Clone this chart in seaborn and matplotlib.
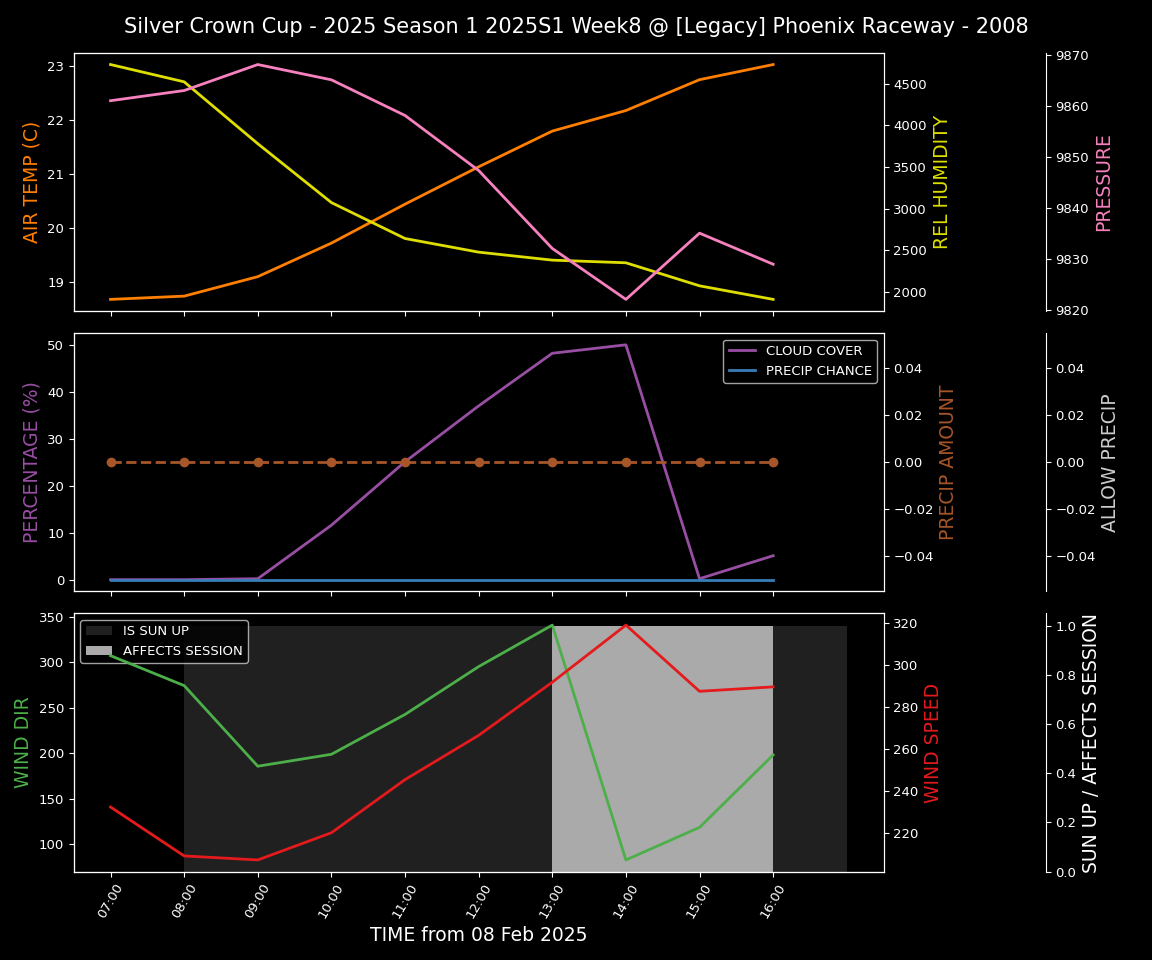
import pandas as pd
import seaborn as sns
import matplotlib.pyplot as plt
import matplotlib.dates as mdates

# Hourly forecast for the session day
hours = ['07:00', '08:00', '09:00', '10:00', '11:00', '12:00', '13:00', '14:00', '15:00', '16:00']
air_temp = [18.68, 18.74, 19.10, 19.72, 20.44, 21.13, 21.79, 22.17, 22.74, 23.02]
rel_humidity = [4732, 4524, 3780, 3072, 2640, 2476, 2380, 2348, 2071, 1908]
pressure = [9861.1, 9863.1, 9868.2, 9865.2, 9858.2, 9847.4, 9832.1, 9822.1, 9835.1, 9829.0]
cloud_cover = [0.0, 0.0, 0.2, 11.6, 25.1, 37.0, 48.2, 50.0, 0.2, 5.1]
precip_chance = [0, 0, 0, 0, 0, 0, 0, 0, 0, 0]
precip_amount = [0.0, 0.0, 0.0, 0.0, 0.0, 0.0, 0.0, 0.0, 0.0, 0.0]
allow_precip = [0, 0, 0, 0, 0, 0, 0, 0, 0, 0]
wind_dir = [307.3, 274.4, 185.8, 198.9, 242.7, 295.3, 340.9, 82.8, 118.6, 198.2]
wind_speed = [232.5, 209.3, 207.4, 220.3, 245.5, 266.5, 291.7, 318.8, 287.4, 289.5]
sun_up = [0, 1, 1, 1, 1, 1, 1, 1, 1, 1]
affects_session = [0, 0, 0, 0, 0, 0, 1, 1, 1, 0]

times = pd.to_datetime(['2025-02-08 ' + h for h in hours])
df = pd.DataFrame({
    'time': times, 'air_temp': air_temp, 'rel_humidity': rel_humidity,
    'pressure': pressure, 'cloud_cover': cloud_cover, 'precip_chance': precip_chance,
    'precip_amount': precip_amount, 'wind_dir': wind_dir, 'wind_speed': wind_speed,
})

plt.style.use('dark_background')
plt.rcParams['xtick.labelsize'] = 9.5
plt.rcParams['ytick.labelsize'] = 9.5
plt.rcParams['legend.fontsize'] = 9.5
plt.rcParams['lines.linewidth'] = 2

fig, (ax1, ax2, ax3) = plt.subplots(3, 1, sharex=True, figsize=(11.52, 9.6), dpi=100)
fig.subplots_adjust(left=0.064, right=0.767, top=0.945, bottom=0.092, hspace=0.085)
lab = 13.5

# --- top: temperature / humidity / pressure
sns.lineplot(data=df, x='time', y='air_temp', ax=ax1, color='#ff7f00')
ax1.set_ylabel('AIR TEMP (C)', color='#ff7f00', fontsize=lab)
ax1b = ax1.twinx()
sns.lineplot(data=df, x='time', y='rel_humidity', ax=ax1b, color='#dede00')
ax1b.set_ylabel('REL HUMIDITY', color='#dede00', fontsize=lab)
ax1c = ax1.twinx()
ax1c.spines['right'].set_position(('axes', 1.2))
sns.lineplot(data=df, x='time', y='pressure', ax=ax1c, color='#f781bf')
ax1c.set_ylabel('PRESSURE', color='#f781bf', fontsize=lab)

# --- middle: cloud / precip
sns.lineplot(data=df, x='time', y='cloud_cover', ax=ax2, color='#984ea3', label='CLOUD COVER')
sns.lineplot(data=df, x='time', y='precip_chance', ax=ax2, color='#377eb8', label='PRECIP CHANCE')
ax2.set_ylabel('PERCENTAGE (%)', color='#984ea3', fontsize=lab)
ax2.legend(loc='upper right')
ax2b = ax2.twinx()
sns.lineplot(data=df, x='time', y='precip_amount', ax=ax2b, color='#a65628',
             marker='o', markersize=7, markeredgewidth=0, linestyle='--')
ax2b.set_ylabel('PRECIP AMOUNT', color='#a65628', fontsize=lab)
ax2c = ax2.twinx()
ax2c.spines['right'].set_position(('axes', 1.2))
ax2c.bar(times, allow_precip, width=1 / 24, align='edge', color='#cccccc')
ax2c.set_ylabel('ALLOW PRECIP', color='#cccccc', fontsize=lab)

# --- bottom: wind + sun / session bands
ax3c = ax3.twinx()
ax3c.spines['right'].set_position(('axes', 1.2))
ax3c.bar(times, sun_up, width=1 / 24, align='edge', color='#202020', label='IS SUN UP')
ax3c.bar(times, affects_session, width=1 / 24, align='edge', color='#aaaaaa', label='AFFECTS SESSION')
ax3c.set_ylabel('SUN UP / AFFECTS SESSION', color='white', fontsize=lab)
ax3c.legend(loc='upper left')

sns.lineplot(data=df, x='time', y='wind_dir', ax=ax3, color='#4daf4a')
ax3.set_ylabel('WIND DIR', color='#4daf4a', fontsize=lab)
ax3b = ax3.twinx()
sns.lineplot(data=df, x='time', y='wind_speed', ax=ax3b, color='#e41a1c')
ax3b.set_ylabel('WIND SPEED', color='#e41a1c', fontsize=lab)

ax3c.set_zorder(0)
ax3.set_zorder(1)
ax3b.set_zorder(2)
ax3.patch.set_visible(False)

ax3.set_xticks(times)
ax3.xaxis.set_major_formatter(mdates.DateFormatter('%H:%M'))
plt.setp(ax3.get_xticklabels(), rotation=60)
ax3.set_xlabel('TIME from 08 Feb 2025', fontsize=13.5)
for a in (ax1, ax2):
    a.set_xlabel('')

fig.suptitle('Silver Crown Cup - 2025 Season 1 2025S1 Week8 @ [Legacy] Phoenix Raceway - 2008',
             fontsize=15, y=0.982)

fig.savefig('out.png', dpi=100, facecolor='black')
